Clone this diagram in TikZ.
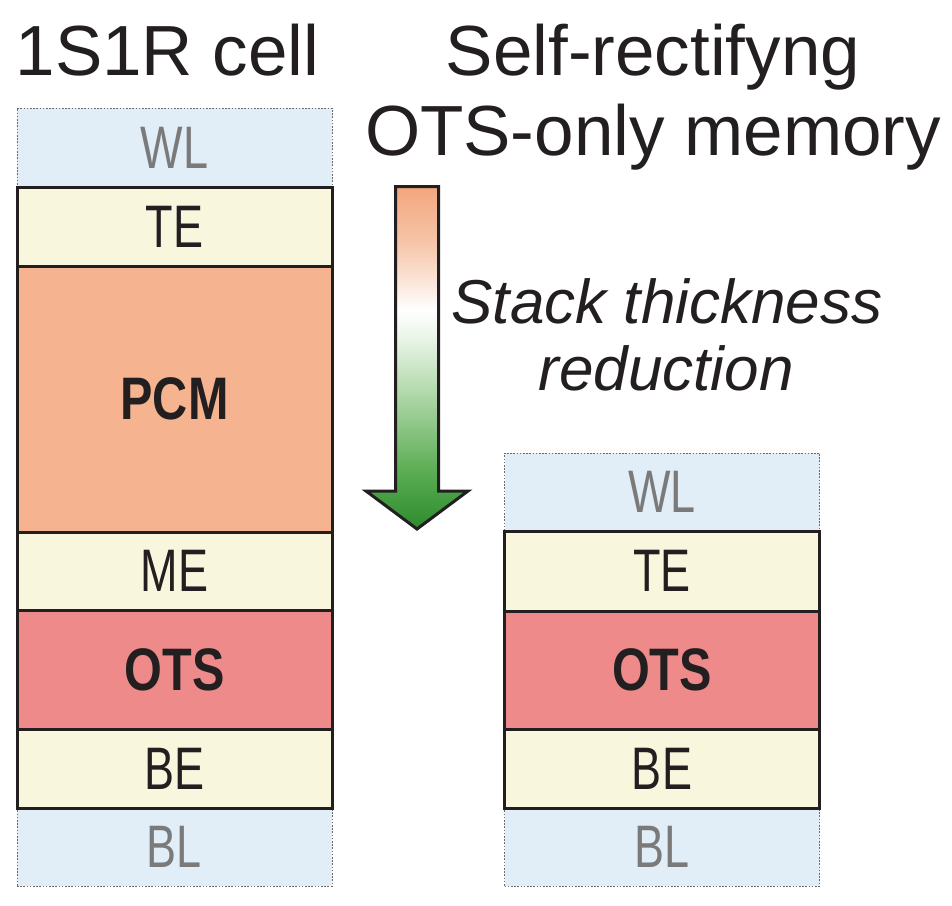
\documentclass[tikz,border=0pt]{standalone}
\usepackage{fontspec}
\setmainfont{Liberation Sans}
\newfontfamily\narrowreg[FakeStretch=0.75]{Liberation Sans}
\newfontfamily\narrowbld[FakeStretch=0.81]{Liberation Sans Bold}
\definecolor{wlblue}{HTML}{E1EEF8}
\definecolor{cream}{HTML}{F8F6DC}
\definecolor{pcmorange}{HTML}{F5B48F}
\definecolor{otsred}{HTML}{EF8A8A}
\definecolor{edgeblack}{HTML}{231F20}
\definecolor{txtblack}{HTML}{231F20}
\definecolor{txtgrey}{HTML}{7A7A7A}
\definecolor{dashgrey}{HTML}{6A6A6A}
\definecolor{agreen}{HTML}{2E8B2E}
\definecolor{agreenb}{HTML}{58AB50}
\definecolor{agreenc}{HTML}{B2D9AB}
\definecolor{agreend}{HTML}{EAF5E8}
\definecolor{aorangec}{HTML}{FBE6DA}
\definecolor{aorangeb}{HTML}{F6C4A8}
\definecolor{aorange}{HTML}{F3A67D}
\pgfdeclareverticalshading{arrowshade}{100bp}{color(0bp)=(agreen); color(25bp)=(agreen); color(33bp)=(agreenb); color(45bp)=(agreenc); color(53bp)=(agreend); color(57bp)=(white); color(61bp)=(aorangec); color(67bp)=(aorangeb); color(75bp)=(aorange); color(100bp)=(aorange)}
\tikzset{
  layer/.style={rectangle, inner sep=0pt, outer sep=0pt, minimum width=315pt},
  wire/.style={layer, fill=wlblue, draw=dashgrey, line width=0.8pt, dash pattern=on 1.6pt off 1.6pt,
    text=txtgrey, font=\narrowreg\fontsize{60}{60}\selectfont},
  elec/.style={layer, fill=cream, draw=edgeblack, line width=3pt,
    text=txtblack, font=\narrowreg\fontsize{60}{60}\selectfont},
  pcm/.style={layer, fill=pcmorange, draw=edgeblack, line width=3pt,
    text=txtblack, font=\narrowbld\fontsize{60}{60}\selectfont},
  ots/.style={layer, fill=otsred, draw=edgeblack, line width=3pt,
    text=txtblack, font=\narrowbld\fontsize{60}{60}\selectfont},
  title/.style={anchor=base, inner sep=0pt, text=txtblack, font=\fontsize{71}{80}\selectfont},
  slogan/.style={anchor=base, inner sep=0pt, text=txtblack, font=\itshape\fontsize{62}{62}\selectfont},
}
\begin{document}
\begin{tikzpicture}[x=1pt, y=-1pt]
\useasboundingbox (0,0) rectangle (952,905);
% left stack
\node[wire, minimum height=79pt] (lwl) at (174.5,147.5) {WL};
\node[wire, minimum height=78pt] (lbl) at (174.5,847) {BL};
\node[elec, minimum height=79pt] (lte) at (174.5,226.5) {TE};
\node[pcm, minimum height=266pt] (lpcm) at (174.5,399) {PCM};
\node[elec, minimum height=78pt] (lme) at (174.5,571) {ME};
\node[ots, minimum height=119pt] (lots) at (174.5,669.5) {OTS};
\node[elec, minimum height=79pt] (lbe) at (174.5,768.5) {BE};
% right stack
\node[wire, minimum height=78pt] (rwl) at (662,492) {WL};
\node[wire, minimum height=78pt] (rbl) at (662,847) {BL};
\node[elec, minimum height=80pt] (rte) at (662,571) {TE};
\node[ots, minimum height=118pt] (rots) at (662,670) {OTS};
\node[elec, minimum height=79pt] (rbe) at (662,768.5) {BE};
% titles
\node[title] (t1) at (167.5,75) {1S1R cell};
\node[title] (t2) at (653,75) {Self-rectifyng};
\node[title] (t3) at (653,155) {OTS-only memory};
\node[slogan] (s1) at (667,323) {Stack thickness};
\node[slogan] (s2) at (666,390) {reduction};
% arrow
\coordinate (tip) at (417,529);
\path[shading=arrowshade] (395.5,186.5) -- (438.5,186.5) -- (438.5,491) -- (468,491) -- (tip) -- (366,491) -- (395.5,491) -- cycle;
\draw[edgeblack, line width=3pt, line join=miter] (395.5,186.5) -- (438.5,186.5) -- (438.5,491) -- (468,491) -- (tip) -- (366,491) -- (395.5,491) -- cycle;
\end{tikzpicture}
\end{document}
